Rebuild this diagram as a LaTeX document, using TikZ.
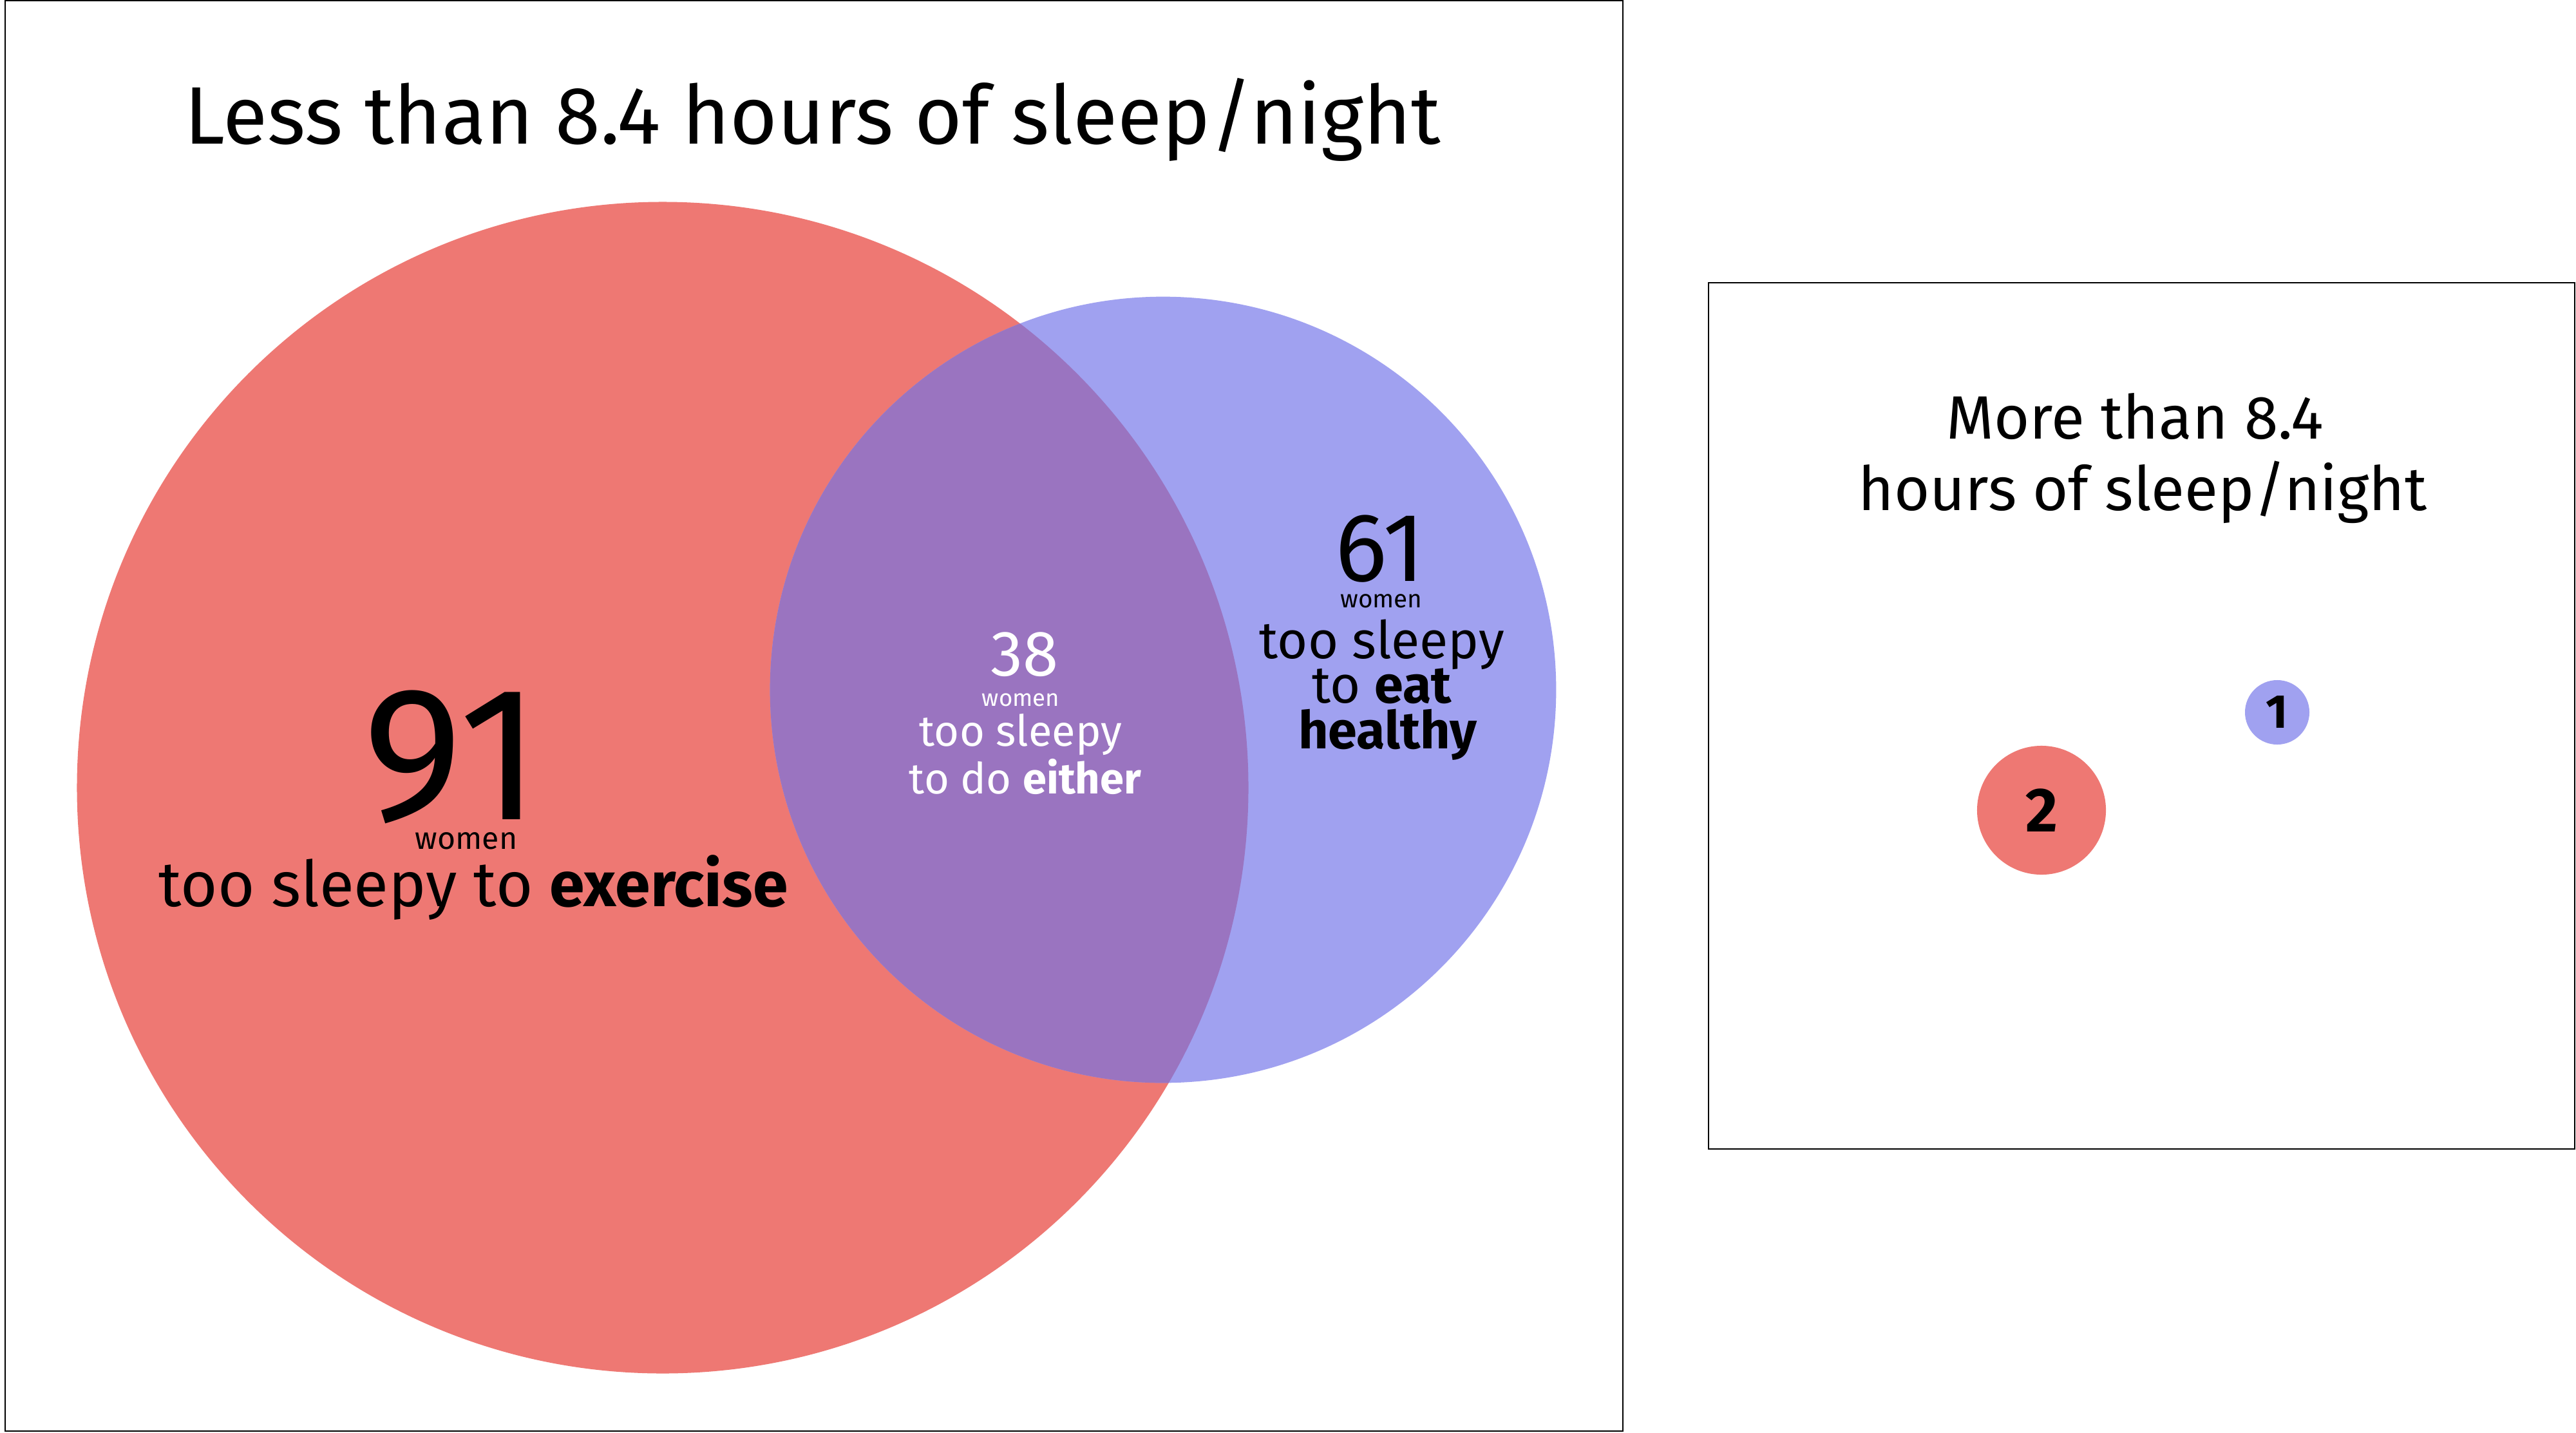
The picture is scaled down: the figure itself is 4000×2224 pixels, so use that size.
\documentclass[tikz,border=0pt]{standalone}
\usepackage{fontspec}
\setmainfont{Fira Sans}
\definecolor{redc}{RGB}{238,120,115}
\definecolor{bluec}{RGB}{160,161,240}
\definecolor{purc}{RGB}{154,116,192}
\begin{document}
\begin{tikzpicture}[x=0.01cm,y=-0.01cm,
  fsz/.style={font=\fontsize{#1}{#1}\selectfont},
  lbl/.style={anchor=base,inner sep=0pt,align=center},
  frame/.style={draw=black,line width=0.6pt}]
\useasboundingbox (0,0) rectangle (4000,2224);
\fill[white] (0,0) rectangle (4000,2224);
% frames
\draw[frame] (8,1) rectangle (2520,2222);
\draw[frame] (2653,439) rectangle (3998,1784);
% Venn circles
\fill[redc] (1029,1223) circle[radius=9.09cm];
\fill[bluec] (1806,1071) circle[radius=6.10cm];
\begin{scope}
  \clip (1029,1223) circle[radius=9.09cm];
  \fill[purc] (1806,1071) circle[radius=6.10cm];
\end{scope}
% titles
\node[lbl,fsz=36] (title) at (1262,223) {Less than 8.4 hours of sleep/night};
\node[lbl,fsz=27] (rt1) at (3315,681) {More than 8.4};
\node[lbl,fsz=27] (rt2) at (3327,792) {hours of sleep/night};
% 91
\node[lbl,fsz=84] (n91) at (702,1272) {91};
\node[lbl,fsz=13.7] (w91) at (724,1318) {women};
\node[lbl,fsz=28] (t91) at (735,1407) {too sleepy to \textbf{exercise}};
% 38
\node[lbl,fsz=28.4,text=white] (n38) at (1591,1049) {38};
\node[lbl,fsz=10.4,text=white] (w38) at (1585,1096) {women};
\node[lbl,fsz=19,text=white] (t38a) at (1585,1158) {too sleepy};
\node[lbl,fsz=19,text=white] (t38b) at (1592,1232) {to do \textbf{either}};
% 61
\node[lbl,fsz=43] (n61) at (2143,902) {61};
\node[lbl,fsz=11] (w61) at (2145,943) {women};
\node[lbl,fsz=23] (t61a) at (2146,1022) {too sleepy};
\node[lbl,fsz=23] (t61b) at (2146,1091) {to \textbf{eat}};
\node[lbl,fsz=23] (t61c) at (2155,1162) {\textbf{healthy}};
% small circles
\node[circle,fill=redc,minimum size=2cm,inner sep=0pt,fsz=27.5] (c2) at (3170,1258) {\textbf{2}};
\node[circle,fill=bluec,minimum size=1cm,inner sep=0pt,fsz=21] (c1) at (3536,1106) {\textbf{1}};
\end{tikzpicture}
\end{document}
